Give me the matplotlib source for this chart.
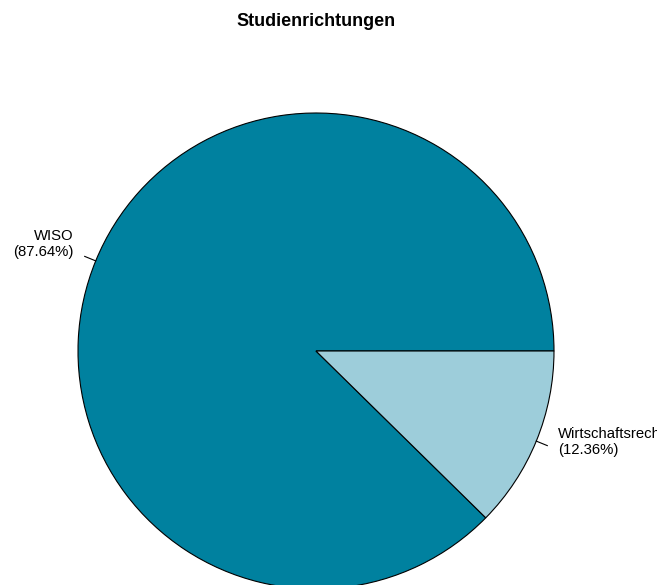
import matplotlib
matplotlib.use('Agg')
import matplotlib.pyplot as plt
import numpy as np

labels = ['WISO', 'Wirtschaftsrecht']
shares = [87.64, 12.36]
colors = ['#00819F', '#9DCDDA']
title = 'Studienrichtungen'

plt.rcParams['font.family'] = ['Liberation Sans', 'DejaVu Sans']

W, H = 657, 585
fig = plt.figure(figsize=(W / 100, H / 100), dpi=100)
ax = fig.add_axes([0, 0, 1, 1])

cx, cy, r = 316, H - 351, 238
wedges, _ = ax.pie(shares, colors=colors, startangle=0, counterclock=True,
                   center=(cx, cy), radius=r, frame=True,
                   wedgeprops=dict(edgecolor='black', linewidth=0.8))
ax.set_xlim(0, W)
ax.set_ylim(0, H)
ax.axis('off')

for w, lab, s in zip(wedges, labels, shares):
    mid = np.deg2rad((w.theta1 + w.theta2) / 2)
    c, sn = np.cos(mid), np.sin(mid)
    ax.plot([cx + r * c, cx + 1.05 * r * c], [cy + r * sn, cy + 1.05 * r * sn],
            color='black', lw=0.8)
    # label block sits a little above the radial point, like R's pie()
    ax.text(cx + 1.1 * r * c, cy + 1.1 * r * sn + 8, f'{lab}\n({s:.2f}%)',
            ha='left' if c > 0 else 'right', va='center', fontsize=10.7,
            linespacing=1.2)

fig.text(316 / W, 1 - 21 / H, title, ha='center', va='center',
         fontsize=13, fontweight='bold')

fig.savefig('out.png', dpi=100)
